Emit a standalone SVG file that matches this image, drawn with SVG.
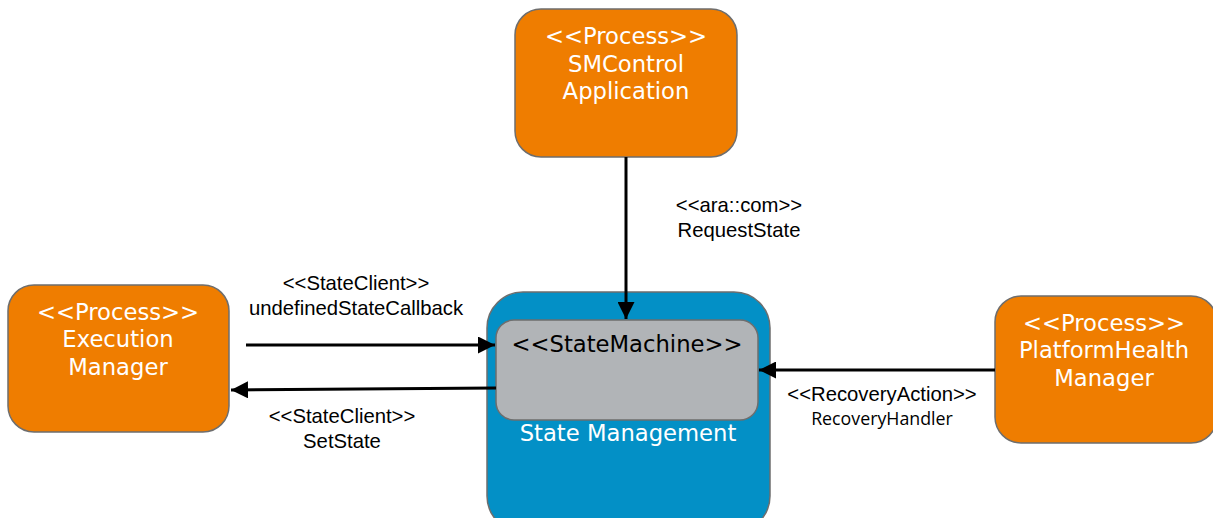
<svg xmlns="http://www.w3.org/2000/svg" width="1213" height="518" viewBox="0 0 1213 518">
  <style>
    .proc { fill: #ef7d00; stroke: #6e6e6e; stroke-width: 1.5; }
    .ptxt { font-family: "DejaVu Sans", Verdana, sans-serif; font-size: 22.7px; fill: #ffffff; text-anchor: middle; }
    .lbl { font-family: "Liberation Sans", Arial, sans-serif; font-size: 20.3px; fill: #000000; text-anchor: middle; }
    .lbl2 { font-family: "Open Sans", "DejaVu Sans", sans-serif; font-size: 17.8px; fill: #000000; text-anchor: middle; }
    .conn { stroke: #000000; stroke-width: 3; fill: none; marker-end: url(#arrow); }
  </style>
  <defs>
    <marker id="arrow" viewBox="0 0 10 10" refX="10" refY="5" markerUnits="userSpaceOnUse" markerWidth="17" markerHeight="17" orient="auto">
      <path d="M0,0 L10,5 L0,10 Z" fill="#000000"/>
    </marker>
  </defs>

  <g id="smcontrol">
    <rect class="proc" x="515" y="9" width="222" height="148" rx="26"/>
    <text class="ptxt" x="626" y="44">&lt;&lt;Process&gt;&gt;</text>
    <text class="ptxt" x="626" y="72">SMControl</text>
    <text class="ptxt" x="626" y="99">Application</text>
  </g>

  <g id="execution-manager">
    <rect class="proc" x="8" y="285" width="221" height="147" rx="26"/>
    <text class="ptxt" x="118" y="320">&lt;&lt;Process&gt;&gt;</text>
    <text class="ptxt" x="118" y="347">Execution</text>
    <text class="ptxt" x="118" y="375">Manager</text>
  </g>

  <g id="platform-health-manager">
    <rect class="proc" x="995" y="296" width="222" height="147" rx="26"/>
    <text class="ptxt" x="1104" y="331">&lt;&lt;Process&gt;&gt;</text>
    <text class="ptxt" x="1104" y="358">PlatformHealth</text>
    <text class="ptxt" x="1104" y="386">Manager</text>
  </g>

  <g id="state-management">
    <rect x="487" y="292" width="283" height="240" rx="36" fill="#0390c6" stroke="#6e6e6e" stroke-width="1.5"/>
    <text class="ptxt" x="628" y="441">State Management</text>
  </g>

  <g id="state-machine">
    <rect x="496" y="320" width="262" height="100" rx="18" fill="#b1b4b7" stroke="#6e6e6e" stroke-width="1.5"/>
    <text class="ptxt" x="627" y="352" style="fill:#000000">&lt;&lt;StateMachine&gt;&gt;</text>
  </g>

  <g id="connectors">
    <line class="conn" x1="626" y1="157" x2="626" y2="319"/>
    <line class="conn" x1="246" y1="345" x2="495" y2="345"/>
    <line class="conn" x1="496" y1="388" x2="231" y2="390"/>
    <line class="conn" x1="995" y1="370" x2="759" y2="370"/>

    <text class="lbl" x="739" y="212">&lt;&lt;ara::com&gt;&gt;</text>
    <text class="lbl" x="739" y="237">RequestState</text>
    <text class="lbl" x="356" y="290">&lt;&lt;StateClient&gt;&gt;</text>
    <text class="lbl" x="356" y="315">undefinedStateCallback</text>
    <text class="lbl" x="342" y="423">&lt;&lt;StateClient&gt;&gt;</text>
    <text class="lbl" x="342" y="448">SetState</text>
    <text class="lbl" x="882" y="401">&lt;&lt;RecoveryAction&gt;&gt;</text>
    <text class="lbl2" x="882" y="425">RecoveryHandler</text>
  </g>
</svg>
